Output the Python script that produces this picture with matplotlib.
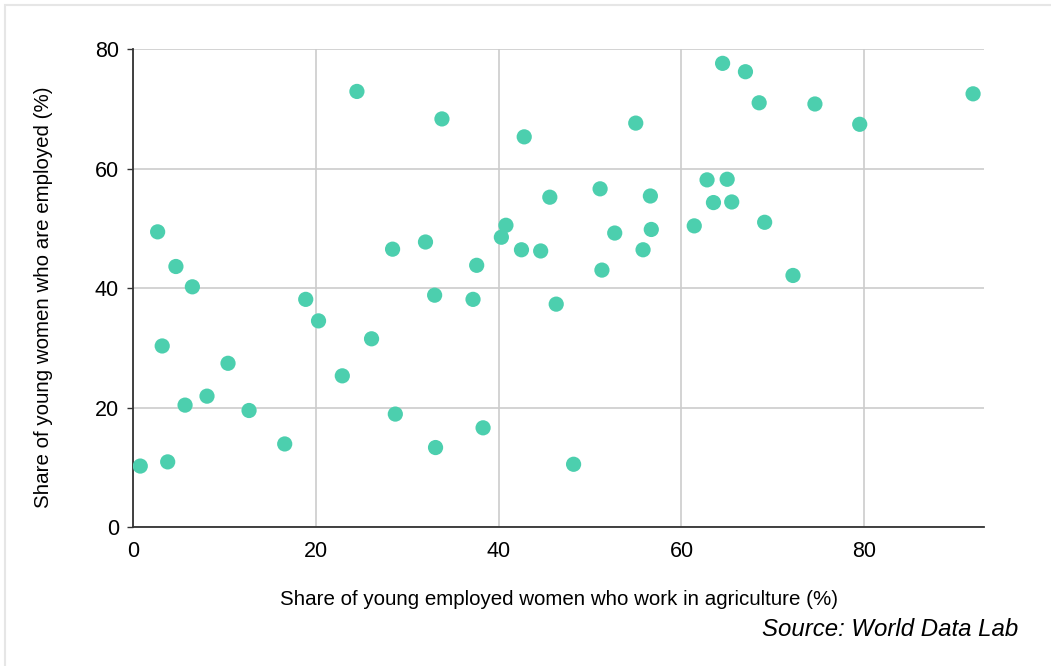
import numpy as np
import matplotlib
matplotlib.use("Agg")
import matplotlib.pyplot as plt
from matplotlib.patches import Rectangle

plt.rcParams['font.family'] = ['Liberation Sans', 'DejaVu Sans']

# share of young employed women working in agriculture (%)
agri_share = [0.8, 2.7, 3.2, 3.8, 4.7, 5.7, 6.5, 8.1, 10.4, 12.7,
              16.6, 18.9, 20.3, 22.9, 24.5, 26.1, 28.4, 28.7, 32.0, 33.0,
              33.1, 33.8, 37.2, 37.6, 38.3, 40.3, 40.8, 42.5, 42.8, 44.6,
              45.6, 46.3, 48.2, 51.1, 51.3, 52.7, 55.0, 55.8, 56.6, 56.7,
              61.4, 62.8, 63.5, 64.5, 65.0, 65.5, 67.0, 68.5, 69.1, 72.2,
              74.6, 79.5, 91.9]
# share of young women who are employed (%)
employed_share = [10.2, 49.4, 30.3, 10.9, 43.6, 20.4, 40.2, 21.9, 27.4, 19.5,
                  13.9, 38.1, 34.5, 25.3, 72.9, 31.5, 46.5, 18.9, 47.7, 38.8,
                  13.3, 68.3, 38.1, 43.8, 16.6, 48.5, 50.5, 46.4, 65.3, 46.2,
                  55.2, 37.3, 10.5, 56.6, 43.0, 49.2, 67.6, 46.4, 55.4, 49.8,
                  50.4, 58.1, 54.3, 77.6, 58.2, 54.4, 76.2, 71.0, 51.0, 42.1,
                  70.8, 67.4, 72.5]

x_ticks = [0, 20, 40, 60, 80]
y_ticks = [0, 20, 40, 60, 80]

fig = plt.figure(figsize=(10.51, 6.66), dpi=100)
ax = fig.add_axes([0.1265, 0.2087, 0.8098, 0.7177])

# light outer frame of the card
fig.patches.append(Rectangle((5 / 1051, -0.05), 1.2, 1 - 5 / 666 + 0.05,
                             transform=fig.transFigure, fill=False,
                             edgecolor='#e6e6e6', linewidth=1.5))

ax.scatter(agri_share, employed_share, s=120, color='#4ccfae',
           edgecolors='none', zorder=3)

ax.set_xlim(0, 93.1)
ax.set_ylim(0, 80)
ax.set_xticks(x_ticks)
ax.set_yticks(y_ticks)
ax.grid(True, color='#cccccc', linewidth=1.2)
ax.set_axisbelow(True)

for side in ['top', 'right']:
    ax.spines[side].set_visible(False)
ax.spines['left'].set_color('#333333')
ax.spines['bottom'].set_color('#333333')
ax.spines['left'].set_linewidth(1.3)
ax.spines['bottom'].set_linewidth(1.3)

ax.tick_params(axis='y', length=4, width=1, color='#333333', labelsize=15.5, pad=6)
ax.tick_params(axis='x', length=0, labelsize=15.5, pad=10)

ax.set_xlabel('Share of young employed women who work in agriculture (%)',
              fontsize=14.8, labelpad=20)
ax.set_ylabel('Share of young women who are employed (%)', fontsize=14.8)
ax.yaxis.set_label_coords(-0.094, 0.48)

fig.text(1018 / 1051, 1 - 630 / 666, 'Source: World Data Lab', fontsize=17.3,
         style='italic', ha='right', va='center')

fig.savefig('out.png', dpi=100)
